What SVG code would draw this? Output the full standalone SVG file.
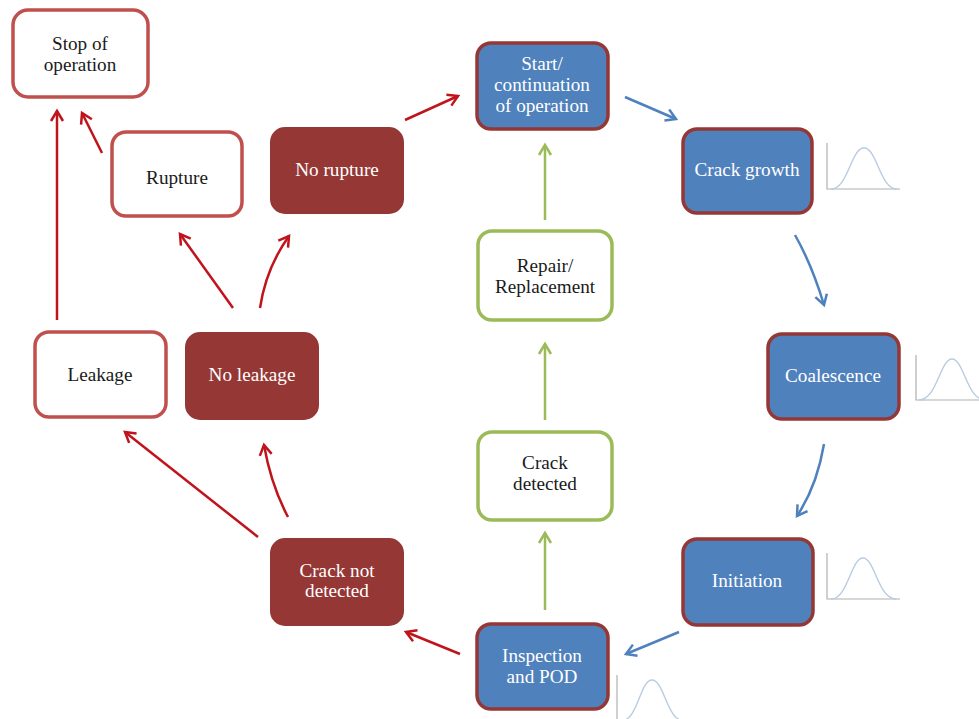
<svg xmlns="http://www.w3.org/2000/svg" width="979" height="719" viewBox="0 0 979 719">
<style>
text{font-family:"Liberation Serif","Times New Roman",serif;font-size:19.2px;text-anchor:middle}
.wr{fill:#ffffff;stroke:#C0504D;stroke-width:3.5}
.dr{fill:#953735;stroke:#953735;stroke-width:2}
.bl{fill:#4F81BD;stroke:#953735;stroke-width:3.5}
.gr{fill:#ffffff;stroke:#9BBB59;stroke-width:3.5}
.tk{fill:#1a1a1a}
.tw{fill:#ffffff}
.cr{fill:none;stroke:#C0141C;stroke-width:2.5}
.cb{fill:none;stroke:#4F81BD;stroke-width:2.5}
.cg{fill:none;stroke:#9BBB59;stroke-width:2.5}
.ax{fill:none;stroke:#B0B0B0;stroke-width:1.2}
.bc{fill:none;stroke:#B9CCE2;stroke-width:1.4}
</style>
<defs>
<marker id="ar" markerUnits="userSpaceOnUse" markerWidth="16" markerHeight="16" viewBox="-12 -8 14 16" refX="0" refY="0" orient="auto"><path d="M-10,-6 L0,0 L-10,6" fill="none" stroke="#C0141C" stroke-width="2.5"/></marker>
<marker id="ab" markerUnits="userSpaceOnUse" markerWidth="16" markerHeight="16" viewBox="-12 -8 14 16" refX="0" refY="0" orient="auto"><path d="M-10,-6 L0,0 L-10,6" fill="none" stroke="#4F81BD" stroke-width="2.5"/></marker>
<marker id="ag" markerUnits="userSpaceOnUse" markerWidth="16" markerHeight="16" viewBox="-12 -8 14 16" refX="0" refY="0" orient="auto"><path d="M-10,-6 L0,0 L-10,6" fill="none" stroke="#9BBB59" stroke-width="2.5"/></marker>
</defs>
<rect width="979" height="719" fill="#ffffff"/>
<g id="connectors">
<path class="cr" marker-end="url(#ar)" d="M57,320 L57,111"/>
<path class="cr" marker-end="url(#ar)" d="M102,153 L82,113"/>
<path class="cr" marker-end="url(#ar)" d="M233,308 L180,234"/>
<path class="cr" marker-end="url(#ar)" d="M260,308 Q266,268 289,236"/>
<path class="cr" marker-end="url(#ar)" d="M405,120 L458,96"/>
<path class="cb" marker-end="url(#ab)" d="M625,97 L676,119"/>
<path class="cb" marker-end="url(#ab)" d="M795,235 Q812,265 824,305"/>
<path class="cb" marker-end="url(#ab)" d="M824,444 Q817,486 797,516"/>
<path class="cb" marker-end="url(#ab)" d="M679,632 L626,654"/>
<path class="cr" marker-end="url(#ar)" d="M460,654 L406,632"/>
<path class="cg" marker-end="url(#ag)" d="M545,610 L545,533"/>
<path class="cg" marker-end="url(#ag)" d="M545,420 L545,344"/>
<path class="cg" marker-end="url(#ag)" d="M545,220 L545,145"/>
<path class="cr" marker-end="url(#ar)" d="M258,537 L125,432"/>
<path class="cr" marker-end="url(#ar)" d="M288,517 Q271,485 264,445"/>
</g>
<g id="stop"><rect class="wr" x="13" y="10" width="135" height="87" rx="15"/><text class="tk" x="80" y="50">Stop of</text><text class="tk" x="80" y="71">operation</text></g>
<g id="rupture"><rect class="wr" x="112" y="132" width="130" height="84" rx="14"/><text class="tk" x="177" y="184">Rupture</text></g>
<g id="norupture"><rect class="dr" x="271" y="128" width="132" height="85" rx="14"/><text class="tw" x="337" y="176">No rupture</text></g>
<g id="leakage"><rect class="wr" x="35" y="332" width="131" height="85" rx="14"/><text class="tk" x="100" y="381">Leakage</text></g>
<g id="noleakage"><rect class="dr" x="186" y="333" width="132" height="86" rx="14"/><text class="tw" x="252" y="381">No leakage</text></g>
<g id="cracknotdetected"><rect class="dr" x="271" y="539" width="132" height="86" rx="14"/><text class="tw" x="337" y="577">Crack not</text><text class="tw" x="337" y="597">detected</text></g>
<g id="start"><rect class="bl" x="477" y="43" width="131" height="86" rx="14"/><text class="tw" x="542" y="70">Start/</text><text class="tw" x="542" y="91">continuation</text><text class="tw" x="542" y="112">of operation</text></g>
<g id="repair"><rect class="gr" x="478" y="231" width="134" height="89" rx="14"/><text class="tk" x="545" y="272">Repair/</text><text class="tk" x="545" y="293">Replacement</text></g>
<g id="crackdetected"><rect class="gr" x="478" y="432" width="134" height="88" rx="14"/><text class="tk" x="545" y="469">Crack</text><text class="tk" x="545" y="490">detected</text></g>
<g id="inspection"><rect class="bl" x="477" y="624" width="131" height="85" rx="14"/><text class="tw" x="542" y="662">Inspection</text><text class="tw" x="542" y="683">and POD</text></g>
<g id="crackgrowth"><rect class="bl" x="683" y="129" width="129" height="84" rx="14"/><text class="tw" x="747" y="176">Crack growth</text></g>
<g id="coalescence"><rect class="bl" x="768" y="334" width="131" height="85" rx="14"/><text class="tw" x="833" y="382">Coalescence</text></g>
<g id="initiation"><rect class="bl" x="683" y="539" width="130" height="86" rx="14"/><text class="tw" x="747" y="587">Initiation</text></g>
<g id="curves">
<path class="ax" d="M827,143 L827,189 L900,189"/>
<path class="bc" d="M831,189 C848,189 851,148 864,148 C877,148 880,189 897,189"/>
<path class="ax" d="M916,355 L916,400 L979,400"/>
<path class="bc" d="M919,400 C937,400 940,359 952,359 C964,359 967,400 985,400"/>
<path class="ax" d="M827,553 L827,599 L900,599"/>
<path class="bc" d="M831,599 C848,599 851,558 863,558 C875,558 878,599 896,599"/>
<path class="ax" d="M617,675 L617,719"/>
<path class="bc" d="M621,721 C638,721 640,680 652,680 C664,680 667,721 684,721"/>
</g>
</svg>
